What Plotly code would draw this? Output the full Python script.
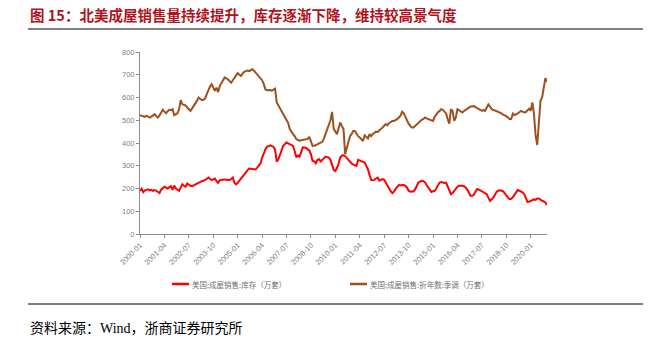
import plotly.graph_objects as go

# Monthly periods, 2000-01 .. 2020-11
months = [f"{y}-{m:02d}" for y in range(2000, 2021) for m in range(1, 13)][:251]
tick_labels = months[::15]

# 美国:成屋销售:库存（万套）
inventory = [
    190, 199, 184, 192, 194, 196, 192, 194, 190, 193, 190, 186,
    180, 195, 202, 208, 204, 200, 206, 210, 194, 213, 200, 195,
    190, 205, 218, 212, 208, 222, 216, 212, 210, 214, 218, 222,
    226, 230, 232, 234, 237, 242, 248, 242, 237, 240, 244, 232,
    225, 237, 238, 242, 240, 238, 236, 237, 242, 248, 225, 218,
    225, 235, 244, 252, 262, 273, 280, 288, 287, 285, 283, 284,
    292, 300, 310, 335, 359, 372, 383, 388, 390, 386, 383, 370,
    318, 328, 346, 370, 388, 395, 402, 398, 393, 390, 387, 365,
    337, 345, 340, 360, 381, 380, 378, 372, 368, 350, 321, 320,
    311, 326, 329, 319, 325, 335, 340, 338, 336, 325, 305, 282,
    277, 290, 310, 336, 345, 346, 342, 333, 325, 318, 310, 305,
    300, 299, 326, 322, 319, 317, 314, 300, 285, 260, 238, 236,
    238, 244, 248, 234, 236, 241, 238, 225, 210, 197, 188, 180,
    186, 198, 208, 215, 214, 216, 215, 212, 204, 190, 186, 187,
    187, 196, 212, 226, 230, 234, 232, 228, 215, 205, 195, 185,
    188, 190, 200, 214, 226, 228, 226, 224, 226, 209, 190, 175,
    180, 190, 200, 208, 212, 213, 212, 210, 205, 195, 180, 168,
    168, 172, 185, 197, 196, 192, 190, 186, 180, 175, 160, 146,
    153, 160, 172, 185, 190, 192, 190, 188, 180, 168, 160, 153,
    155, 161, 170, 183, 193, 190, 186, 183, 175, 160, 141, 142,
    146, 150, 152, 150, 156, 156, 150, 146, 143, 139, 127,
]

# 美国:成屋销售:折年数:季调（万套）
sales_saar = [
    522, 519, 517, 515, 520, 514, 512, 516, 521, 527, 518, 512,
    522, 535, 546, 538, 531, 540, 546, 544, 549, 522, 528, 531,
    548, 588, 570, 568, 565, 556, 548, 541, 552, 562, 570, 585,
    600, 594, 588, 590, 595, 615, 636, 648, 658, 640, 629, 643,
    624, 650, 665, 676, 688, 684, 680, 672, 665, 676, 688, 698,
    707, 700, 695, 705, 713, 716, 718, 716, 720, 724, 718, 710,
    700, 692, 683, 676, 660, 636, 632, 634, 633, 630, 636, 639,
    578, 565, 552, 541, 530, 518, 505, 488, 461, 448, 439, 430,
    417, 413, 410, 412, 414, 416, 416, 418, 427, 405, 387, 388,
    390, 394, 398, 402, 405, 420, 439, 455, 475, 500, 537, 461,
    450, 439, 465, 490, 475, 461, 351, 380, 410, 430, 440, 453,
    453, 440, 430, 424, 415, 409, 434, 425, 420, 439, 430, 440,
    446, 450, 448, 453, 462, 468, 475, 483, 478, 488, 492, 497,
    497, 500, 505, 512, 520, 537, 530, 515, 497, 485, 475, 468,
    468, 475, 480, 490, 497, 502, 505, 512, 508, 505, 500, 497,
    497, 515, 527, 535, 540, 549, 546, 538, 530, 505, 485, 549,
    540, 497, 512, 549, 545, 540, 534, 541, 545, 551, 555, 560,
    560, 563, 558, 555, 549, 546, 541, 545, 541, 555, 570, 560,
    549, 545, 541, 540, 537, 535, 530, 525, 522, 518, 512, 505,
    505, 529, 522, 525, 530, 535, 541, 538, 534, 536, 545, 551,
    542, 578, 527, 433, 391, 472, 586, 600, 654, 685, 669,
]

names = ["美国:成屋销售:库存（万套）", "美国:成屋销售:折年数:季调（万套）"]
colors = ["#FF0000", "#A0501E"]

fig = go.Figure()
for name, vals, col in zip(names, [inventory, sales_saar], colors):
    fig.add_trace(go.Scatter(
        x=months, y=vals, mode="lines", name=name,
        line=dict(color=col, width=2), showlegend=False,
    ))

W, H = 657, 340
ml, mr, mt, mb = 140, 110, 52, 106
ph = H - mt - mb
pw = W - ml - mr


def px_x(p):
    return (p - ml) / pw


def px_y(p):
    return (H - mb - p) / ph


axis_gray = "#8C8C8C"
tick_font = dict(family="Liberation Sans, Arial", size=7.5, color="#7F7F7F")

fig.update_layout(
    width=W, height=H,
    margin=dict(l=ml, r=mr, t=mt, b=mb),
    paper_bgcolor="white", plot_bgcolor="white",
    xaxis=dict(
        type="category", range=[0, len(months) - 1],
        tickmode="array", tickvals=tick_labels, ticktext=tick_labels,
        tickangle=-45, tickfont=tick_font,
        showline=True, linecolor=axis_gray, linewidth=1,
        ticks="outside", ticklen=3, tickcolor=axis_gray,
        showgrid=False, zeroline=False,
    ),
    yaxis=dict(
        range=[0, 800], dtick=100, tickfont=tick_font,
        showline=True, linecolor=axis_gray, linewidth=1,
        ticks="outside", ticklen=3, tickcolor=axis_gray,
        showgrid=False, zeroline=False,
    ),
)

# Legend keys below the axis
legend_y = px_y(284)
for name, col, x0 in zip(names, colors, (172, 350)):
    fig.add_shape(type="line", xref="paper", yref="paper",
                  x0=px_x(x0), x1=px_x(x0 + 17), y0=legend_y, y1=legend_y,
                  line=dict(color=col, width=2.5))
    fig.add_annotation(
        text=name, xref="paper", yref="paper",
        x=px_x(x0 + 18), y=legend_y, xanchor="left", yanchor="middle",
        showarrow=False,
        font=dict(family="Noto Sans CJK SC", size=7.5, color="#707070"),
    )

# Header and footer rules
for yy in (29, 304):
    fig.add_shape(type="line", xref="paper", yref="paper",
                  x0=px_x(28), x1=px_x(643), y0=px_y(yy), y1=px_y(yy),
                  line=dict(color="#000000", width=1))

fig.add_annotation(
    text="<b>图 15：北美成屋销售量持续提升，库存逐渐下降，维持较高景气度</b>",
    xref="paper", yref="paper", x=px_x(28), y=px_y(14),
    xanchor="left", yanchor="middle", showarrow=False,
    font=dict(family="Noto Sans CJK SC", size=14.5, color="#B3121C"),
)
fig.add_annotation(
    text="资料来源：Wind，浙商证券研究所",
    xref="paper", yref="paper", x=px_x(28), y=px_y(328),
    xanchor="left", yanchor="middle", showarrow=False,
    font=dict(family="Liberation Serif, Noto Sans CJK SC", size=14, color="#000000"),
)

fig.write_html("out.html")
